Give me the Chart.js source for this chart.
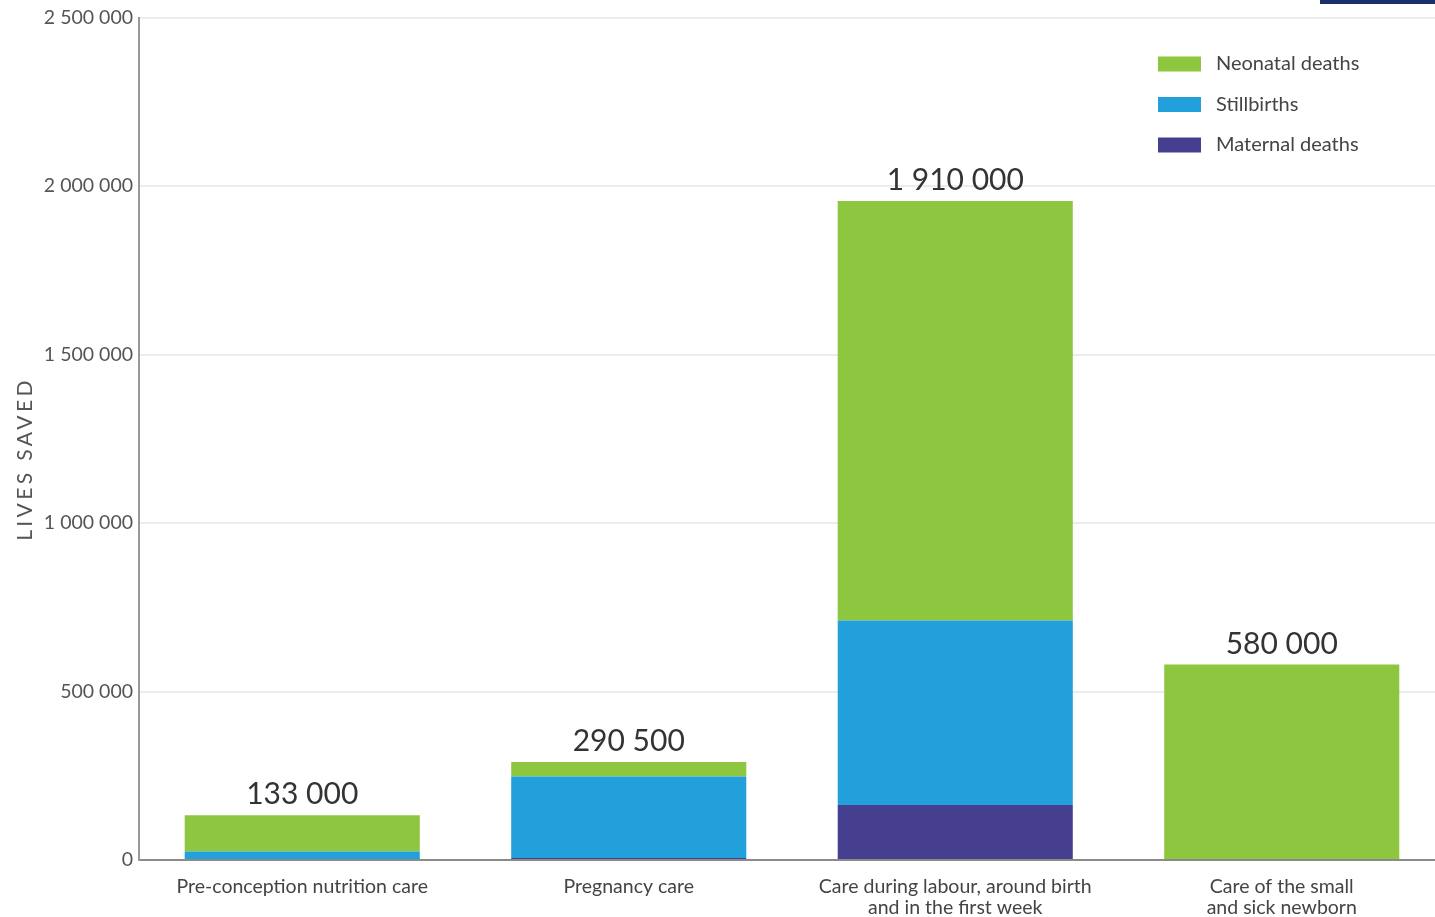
<!DOCTYPE html>
<html lang="en">
    <head>
        <meta charset="UTF-8" />
        <title>Lives saved</title>
        <script src="https://cdn.jsdelivr.net/npm/chart.js"></script>
        <style>
            body { margin: 0; overflow: hidden; background: #fff; }
            #wrap { position: relative; width: 1450px; height: 917px; }
            #corner { position: absolute; left: 1320px; top: 0; width: 130px; height: 4px; background: #1b2f6b; }
        </style>
    </head>
    <body>
        <div id="wrap">
            <canvas id="chart"></canvas>
            <div id="corner"></div>
        </div>
        <script>
            // data
            const categories = [
                "Pre-conception nutrition care",
                "Pregnancy care",
                ["Care during labour, around birth", "and in the first week"],
                ["Care of the small", "and sick newborn"],
            ];
            const maternal = [0, 6000, 163000, 0];
            const stillbirths = [25000, 242000, 548000, 0];
            const neonatal = [108000, 42500, 1245000, 580000];
            const totalLabels = ["133 000", "290 500", "1 910 000", "580 000"];
            const yTicks = ["0", "500 000", "1 000 000", "1 500 000", "2 000 000", "2 500 000"];

            const font = "Lato";

            const totalsPlugin = {
                id: "totals",
                afterDatasetsDraw(chart) {
                    const ctx = chart.ctx;
                    const top = chart.getDatasetMeta(2);
                    ctx.save();
                    ctx.font = "30px " + font;
                    ctx.fillStyle = "#333";
                    ctx.textAlign = "center";
                    ctx.textBaseline = "alphabetic";
                    top.data.forEach((bar, i) => {
                        ctx.fillText(totalLabels[i], bar.x, bar.y - 11);
                    });
                    ctx.restore();
                },
            };

            const legendPlugin = {
                id: "sideLegend",
                afterDraw(chart) {
                    const ctx = chart.ctx;
                    const sets = chart.data.datasets.slice().reverse();
                    ctx.save();
                    ctx.font = "20px " + font;
                    ctx.textBaseline = "middle";
                    sets.forEach((ds, i) => {
                        const y = 64 + i * 40.5;
                        ctx.fillStyle = ds.backgroundColor;
                        ctx.fillRect(1158, y - 7.5, 43, 15);
                        ctx.fillStyle = "#444";
                        ctx.fillText(ds.label, 1216, y);
                    });
                    ctx.restore();
                },
            };

            const titlePlugin = {
                id: "yTitle",
                afterDraw(chart) {
                    const ctx = chart.ctx;
                    ctx.save();
                    ctx.translate(25, 459);
                    ctx.rotate(-Math.PI / 2);
                    ctx.font = "21px " + font;
                    ctx.letterSpacing = "3.4px";
                    ctx.fillStyle = "#555";
                    ctx.textAlign = "center";
                    ctx.textBaseline = "middle";
                    ctx.fillText("LIVES SAVED", 0, 0);
                    ctx.restore();
                },
            };

            new Chart(document.getElementById("chart"), {
                type: "bar",
                data: {
                    labels: categories,
                    datasets: [
                        { label: "Maternal deaths", data: maternal, backgroundColor: "#463f8f" },
                        { label: "Stillbirths", data: stillbirths, backgroundColor: "#21a0db" },
                        { label: "Neonatal deaths", data: neonatal, backgroundColor: "#8dc63f" },
                    ],
                },
                options: {
                    responsive: true,
                    maintainAspectRatio: false,
                    animation: false,
                    barPercentage: 0.72,
                    categoryPercentage: 1,
                    layout: { padding: { top: 16, right: 5, left: 0, bottom: 0 } },
                    plugins: {
                        legend: { display: false },
                        tooltip: { enabled: false },
                    },
                    scales: {
                        x: {
                            stacked: true,
                            grid: { display: false },
                            border: { color: "#8a8a8a", width: 2 },
                            ticks: {
                                color: "#444",
                                font: { family: font, size: 19.5, lineHeight: 1.08 },
                                padding: 8,
                                maxRotation: 0,
                                autoSkip: false,
                            },
                            afterFit(scale) {
                                scale.height = 57;
                            },
                        },
                        y: {
                            stacked: true,
                            min: 0,
                            max: 2500000,
                            grid: { color: "#ececec", lineWidth: 2, drawTicks: false },
                            border: { color: "#999", width: 2 },
                            ticks: {
                                stepSize: 500000,
                                color: "#555",
                                font: { family: font, size: 19.5 },
                                padding: 6,
                                callback: (v) => yTicks[Math.round(v / 500000)],
                            },
                            afterFit(scale) {
                                scale.width = 139;
                            },
                        },
                    },
                },
                plugins: [totalsPlugin, legendPlugin, titlePlugin],
            });
        </script>
    </body>
</html>
